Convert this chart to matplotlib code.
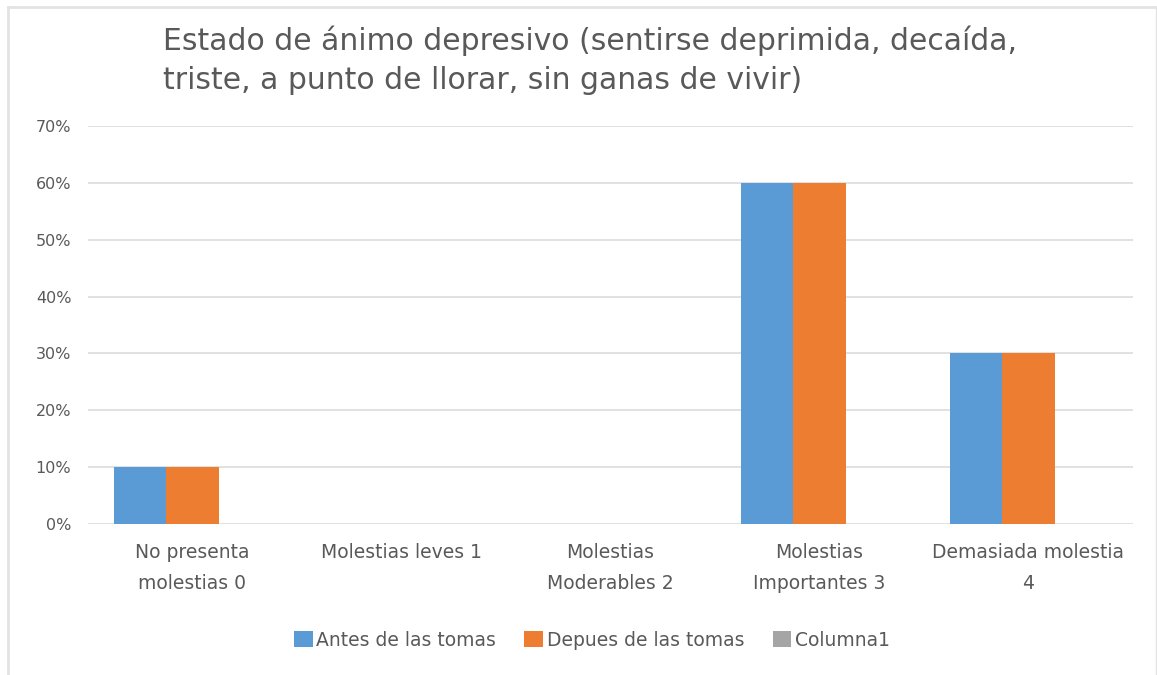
import matplotlib
matplotlib.use("Agg")
import matplotlib.pyplot as plt
from matplotlib.lines import Line2D
import numpy as np

categories = ["No presenta\nmolestias 0", "Molestias leves 1", "Molestias\nModerables 2",
              "Molestias\nImportantes 3", "Demasiada molestia\n4"]
antes = [10, 0, 0, 60, 30]
despues = [10, 0, 0, 60, 30]
columna1 = [0, 0, 0, 0, 0]
series_names = ["Antes de las tomas", "Depues de las tomas", "Columna1"]
colors = ["#5B9BD5", "#ED7D31", "#A5A5A5"]
yticks = [0, 10, 20, 30, 40, 50, 60, 70]
title = "Estado de ánimo depresivo (sentirse deprimida, decaída,\ntriste, a punto de llorar, sin ganas de vivir)"

plt.rcParams['font.family'] = ['DejaVu Sans']

W, H = 1157, 675
fig = plt.figure(figsize=(W/100, H/100), dpi=100)
bc = "#E3E3E3"
fig.add_artist(Line2D([8/W, 8/W], [0, 1-7/H], transform=fig.transFigure, color=bc, lw=2))
fig.add_artist(Line2D([8/W, 1156/W], [1-7/H, 1-7/H], transform=fig.transFigure, color=bc, lw=2))
fig.add_artist(Line2D([1156/W, 1156/W], [0, 1-7/H], transform=fig.transFigure, color=bc, lw=1))

ax = fig.add_axes([88/W, 1-524/H, (1133-88)/W, (524-126)/H])

x = np.arange(len(categories))
w = 0.25
for i, (vals, name, c) in enumerate(zip([antes, despues, columna1], series_names, colors)):
    ax.bar(x + (i-1)*w, vals, width=w, color=c, label=name, zorder=3)

ax.set_xlim(-0.5, len(categories)-0.5)
ax.set_ylim(0, 70)
ax.set_yticks(yticks)
ax.set_yticklabels([f"{v}%" for v in yticks])
ax.set_xticks(x)
ax.set_xticklabels(categories, fontsize=13.5, color="#595959", linespacing=1.78)
ax.tick_params(axis='y', length=0, labelsize=11.5, labelcolor="#595959", pad=12)
ax.tick_params(axis='x', length=0, pad=14)
ax.grid(axis='y', color="#DCDCDC", lw=1.2, zorder=0)
for s in ax.spines.values():
    s.set_visible(False)

fig.text(163/W, 1-25/H, title, fontsize=21.5, color="#595959", ha='left', va='top', linespacing=1.47)

leg = fig.legend(loc='center', bbox_to_anchor=(592/W, 1-640/H), ncol=3, frameon=False,
                 fontsize=13.5, handlelength=1.0, handleheight=0.95, handletextpad=0.2, columnspacing=1.5)
for t in leg.get_texts():
    t.set_color("#595959")

fig.savefig("out.png", dpi=100, facecolor="white")
